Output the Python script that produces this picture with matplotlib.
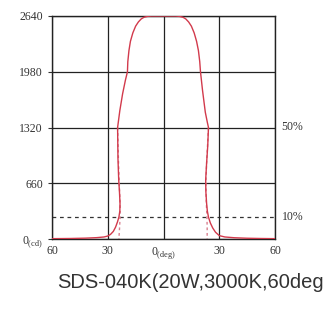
import matplotlib
matplotlib.use("Agg")
import matplotlib.pyplot as plt

# light distribution curve (cd vs degree)
ANG_SOLID = [-60, -50, -42, -36, -32, -30, -28.5, -27, -25.8, -24.8, -24.0, -23.5, -23.4,
             -23.7, -24.1, -24.5, -24.7, -23.5, -22.0, -20.5, -19.4, -19.2, -18.6,
             -17.8, -16.5, -15.0, -13.5, -12.0, -10.5, -8.5, -6.5, 0,
             6.5, 8.5, 10.5, 12.0, 13.5, 15.0, 16.5, 17.8, 18.8, 19.5, 19.9, 21.0,
             22.5, 23.6, 24.2, 23.8, 23.2, 22.7, 22.8, 23.2, 23.6, 24.2, 25.2,
             26.5, 28.0, 30.0, 33, 38, 45, 52, 60]
CD_SOLID = [4, 6, 10, 16, 24, 35, 55, 90, 140, 200, 260, 330, 420,
            560, 700, 950, 1320, 1520, 1720, 1880, 1980, 2100, 2230,
            2340, 2440, 2520, 2570, 2605, 2625, 2636, 2640, 2640,
            2640, 2636, 2625, 2605, 2570, 2520, 2440, 2340, 2230, 2100, 1980, 1760,
            1500, 1380, 1320, 1100, 900, 700, 560, 420, 330, 260, 190,
            130, 80, 40, 24, 15, 9, 6, 4]
ANG_DASH_L = [-24.7, -24.2, -23.8, -23.4, -23.3, -23.6, -24.0]
CD_DASH_L = [1320, 900, 660, 450, 300, 150, 0]
ANG_DASH_R = [24.2, 23.2, 22.8, 23.0, 23.3, 23.5, 23.5]
CD_DASH_R = [1320, 900, 660, 450, 300, 150, 0]

Y_TICKS = [0, 660, 1320, 1980, 2640]
Y_LABELS = ["0$_{\\rm (cd)}$", "660", "1320", "1980", "2640"]
X_TICKS = [-60, -30, 0, 30, 60]
X_LABELS = ["60", "30", "0$_{\\rm (deg)}$", "30", "60"]
PEAK = 2640
TITLE = "SDS-040K(20W,3000K,60deg)"

plt.rcParams["font.family"] = ["Liberation Serif", "DejaVu Serif"]
plt.rcParams["mathtext.fontset"] = "custom"
plt.rcParams["mathtext.rm"] = "Liberation Serif"

fig = plt.figure(figsize=(3.23, 3.09), dpi=100)
ax = fig.add_axes([52 / 323, 1 - 239 / 309, 223 / 323, 223 / 309])

ax.plot(ANG_SOLID, CD_SOLID, color="#d23a4c", lw=1.0, zorder=3)
ax.plot(ANG_DASH_L, CD_DASH_L, color="#d98090", lw=1.0, ls=(0, (2, 2)), zorder=2)
ax.plot(ANG_DASH_R, CD_DASH_R, color="#d98090", lw=1.0, ls=(0, (2, 2)), zorder=2)

ax.axhline(0.1 * PEAK, color="#333333", lw=0.9, ls=(0, (3, 3)), zorder=1)

ax.set_xlim(-60, 60)
ax.set_ylim(0, PEAK)
ax.set_xticks(X_TICKS)
ax.set_xticklabels(X_LABELS)
ax.set_yticks(Y_TICKS)
ax.set_yticklabels(Y_LABELS)
ax.tick_params(labelsize=8.5, colors="#333333", length=3, width=0.8)
ax.tick_params(axis="x", length=0, pad=4)
ax.grid(True, color="#222222", lw=0.9)
for s in ax.spines.values():
    s.set_color("#222222")
    s.set_linewidth(1.0)

ax.text(1.03, 0.5, "50%", transform=ax.transAxes, fontsize=8.5, color="#333333", va="center")
ax.text(1.03, 0.1, "10%", transform=ax.transAxes, fontsize=8.5, color="#333333", va="center")

fig.text(57 / 323, 1 - 283 / 309, TITLE, fontsize=14.5, color="#333333",
         family=["Liberation Sans", "DejaVu Sans"], va="center", ha="left")

fig.savefig("out.png", dpi=100)
